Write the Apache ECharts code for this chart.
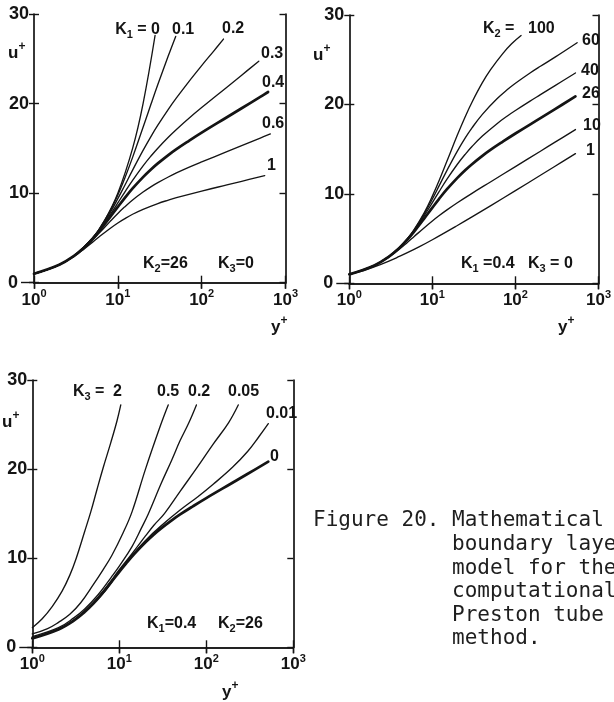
<!DOCTYPE html>
<html>
<head>
<meta charset="utf-8">
<script src="https://cdn.jsdelivr.net/npm/echarts@6/dist/echarts.min.js"></script>
<style>
  html, body { margin: 0; padding: 0; background: #fff; }
  #c { width: 614px; height: 702px; }
</style>
</head>
<body>
<div id="c"></div>
<script>
// Velocity profiles u+ against wall distance y+ (log scale) for three parameter sweeps.

// ---- Sweep of K1 (K2 = 26, K3 = 0) : pairs [y+, u+] ----
const k1_0  = [[1,1.0],[2,2.0],[3,3.0],[5,5.0],[7,7.0],[10,10.0],[15,15.0],[20,20.0],[27.8,27.6]];
const k1_01 = [[1,1.0],[2,2.0],[3,3.0],[5,4.99],[6,5.98],[8,7.93],[10,9.8],[12,11.58],[15,13.99],[20,17.35],[25,20.0],[30,22.12],[40,25.33],[49,27.5]];
const k1_02 = [[1,1.0],[2,2.0],[3,3.0],[4,3.99],[5,4.97],[6,5.93],[8,7.75],[10,9.38],[12,10.8],[15,12.57],[20,14.77],[25,16.37],[30,17.59],[40,19.36],[50,20.63],[70,22.43],[100,24.24],[140,25.89],[182,27.2]];
const k1_03 = [[1,1.0],[2,2.0],[3,2.99],[4,3.97],[5,4.93],[6,5.85],[8,7.51],[10,8.91],[12,10.06],[15,11.42],[20,13.04],[25,14.17],[30,15.02],[40,16.24],[50,17.11],[70,18.33],[100,19.55],[200,21.83],[300,23.17],[480,24.73]];
const k1_04 = [[1,1.0],[2,2.0],[3,2.99],[4,3.96],[5,4.88],[6,5.75],[8,7.26],[10,8.46],[12,9.42],[15,10.52],[20,11.79],[25,12.67],[30,13.32],[40,14.25],[50,14.91],[70,15.82],[100,16.75],[200,18.47],[300,19.48],[500,20.75],[620,21.29]];
const k1_06 = [[1,1.0],[2,2.0],[3,2.98],[4,3.92],[5,4.78],[6,5.55],[8,6.79],[10,7.73],[12,8.44],[15,9.23],[20,10.12],[25,10.73],[30,11.17],[40,11.8],[50,12.25],[70,12.87],[100,13.48],[200,14.63],[300,15.3],[500,16.15],[660,16.61]];
const k1_1  = [[1,1.0],[2,1.99],[3,2.94],[4,3.8],[5,4.53],[6,5.13],[8,6.03],[10,6.67],[12,7.13],[15,7.64],[20,8.19],[30,8.84],[40,9.22],[50,9.49],[100,10.23],[200,10.92],[300,11.32],[565,11.96]];

// ---- Sweep of K2 (K1 = 0.4, K3 = 0) ----
const k2_1   = [[1,0.99],[1.5,1.43],[2,1.83],[3,2.48],[4,3.0],[5,3.42],[7,4.1],[10,4.87],[20,6.46],[30,7.42],[50,8.66],[100,10.36],[200,12.08],[300,13.09],[528,14.5]];
const k2_10  = [[1,1.0],[2,1.99],[3,2.94],[4,3.81],[5,4.57],[6,5.21],[8,6.22],[10,6.97],[12,7.55],[15,8.21],[20,9.01],[30,10.06],[50,11.33],[100,13.05],[200,14.77],[300,15.78],[528,17.19]];
const k2_26  = [[1,1.0],[2,2.0],[3,2.99],[4,3.96],[5,4.88],[6,5.75],[8,7.26],[10,8.46],[12,9.42],[15,10.52],[20,11.79],[25,12.67],[30,13.32],[40,14.25],[50,14.91],[70,15.82],[100,16.75],[200,18.47],[300,19.48],[528,20.89]];
const k2_40  = [[1,1.0],[2,2.0],[3,3.0],[4,3.98],[5,4.94],[6,5.87],[8,7.57],[10,9.02],[12,10.22],[15,11.64],[20,13.31],[25,14.45],[30,15.29],[40,16.46],[60,17.85],[80,18.71],[100,19.32],[150,20.37],[200,21.09],[300,22.11],[528,23.52]];
const k2_60  = [[1,1.0],[2,2.0],[3,3.0],[4,3.99],[5,4.97],[6,5.93],[8,7.77],[10,9.42],[12,10.86],[15,12.63],[20,14.78],[25,16.28],[30,17.38],[40,18.89],[60,20.63],[80,21.66],[100,22.37],[150,23.52],[200,24.27],[300,25.29],[553,26.9]];
const k2_100 = [[1,1.0],[2,2.0],[3,3.0],[4,4.0],[5,5.0],[6,5.98],[8,7.91],[10,9.75],[12,11.44],[15,13.67],[20,16.57],[25,18.68],[30,20.25],[40,22.43],[50,23.86],[70,25.66],[90,26.78],[117,27.7]];

// ---- Sweep of K3 (K1 = 0.4, K2 = 26) ----
const k3_2   = [[1,2.2],[1.3,3.2],[1.7,4.6],[2.2,6.3],[2.7,8.1],[3.2,10.0],[4,13.0],[4.7,15.2],[5.5,17.6],[6.5,20.1],[8,23.0],[9.4,25.4],[10.4,27.2]];
const k3_05  = [[1,1.5],[1.5,2.1],[2,2.8],[2.7,3.7],[3.6,5.0],[5,7.0],[6.5,8.7],[8.2,10.3],[11,12.8],[14,15.2],[20,20.0],[30,25.0],[36.5,27.2]];
const k3_02  = [[1,1.2],[2,2.2],[3,3.3],[4,4.3],[5.7,5.9],[8,7.8],[10,9.1],[14,11.3],[18,13.4],[21.6,15.0],[30,18.3],[40,21.0],[50,23.2],[63,25.2],[77,27.2]];
const k3_005 = [[1,1.05],[2,2.05],[3,3.05],[5,5.0],[7,6.7],[10,8.7],[14,10.5],[20,12.5],[25,13.7],[33,15.0],[50,17.5],[80,20.3],[120,22.8],[180,25.2],[233,27.2]];
const k3_001 = [[1,1.0],[2,2.0],[3,3.0],[5,4.9],[7,6.4],[10,8.55],[15,10.65],[20,12.0],[30,13.6],[50,15.4],[80,16.9],[120,18.3],[200,20.2],[300,22.0],[400,23.6],[516,25.1]];
const k3_0   = [[1,1.0],[2,2.0],[3,2.99],[4,3.96],[5,4.88],[6,5.75],[8,7.26],[10,8.46],[12,9.42],[15,10.52],[20,11.79],[25,12.67],[30,13.32],[40,14.25],[50,14.91],[70,15.82],[100,16.75],[200,18.47],[300,19.48],[516,20.83]];

// axis ranges and tick values
const xRange = [1, 1000];
const yTicks = [0, 10, 20, 30];

const panels = [
  { curves: [k1_0, k1_01, k1_02, k1_03, k1_04, k1_06, k1_1], bold: k1_04 },
  { curves: [k2_1, k2_10, k2_26, k2_40, k2_60, k2_100], bold: k2_26 },
  { curves: [k3_2, k3_05, k3_02, k3_005, k3_001, k3_0], bold: k3_0 }
];

const INK = '#141414';
const FONT = '"Liberation Sans", Arial, Helvetica, sans-serif';
const MONO = '"DejaVu Sans Mono", "Liberation Mono", monospace';

const grids = [
  { left: 34, top: 14, width: 251.5, height: 268.7 },
  { left: 349.3, top: 15, width: 252.4, height: 268.3 },
  { left: 32.3, top: 380, width: 261, height: 267.3 }
];

const powRich = {
  b: { fontSize: 17, fontWeight: 'bold', fontFamily: FONT, color: INK, padding: [3, 0, 0, 0] },
  s: { fontSize: 11, fontWeight: 'bold', fontFamily: FONT, color: INK, verticalAlign: 'top', lineHeight: 12 }
};

const line = { color: INK, width: 1.7 };
const tickLine = { color: INK, width: 1.4 };

const xAxes = [], yAxes = [];
grids.forEach((g, gi) => {
  const xBase = { gridIndex: gi, type: 'log', logBase: 10, min: xRange[0], max: xRange[1],
    splitLine: { show: false }, minorTick: { show: false }, minorSplitLine: { show: false } };
  xAxes.push(Object.assign({}, xBase, {
    position: 'bottom', axisLine: { show: true, lineStyle: line },
    axisTick: { show: true, inside: false, length: 6, lineStyle: tickLine },
    axisLabel: { show: true, margin: 6, rich: powRich,
      formatter: v => '{b|10}{s|' + Math.round(Math.log10(v)) + '}' }
  }));
  xAxes.push(Object.assign({}, xBase, {
    position: 'bottom', axisLine: { show: false },
    axisTick: { show: true, inside: true, length: 7, lineStyle: tickLine }, axisLabel: { show: false }
  }));
  xAxes.push(Object.assign({}, xBase, {
    position: 'top', axisLine: { show: true, lineStyle: line },
    axisTick: { show: true, inside: true, length: 6, lineStyle: tickLine }, axisLabel: { show: false }
  }));

  const yBase = { gridIndex: gi, type: 'value', min: yTicks[0], max: yTicks[yTicks.length - 1], interval: 10,
    splitLine: { show: false } };
  yAxes.push(Object.assign({}, yBase, {
    position: 'left', axisLine: { show: true, lineStyle: line },
    axisTick: { show: true, inside: false, length: 5, lineStyle: tickLine },
    axisLabel: { show: true, margin: 5, fontSize: 18, fontWeight: 'bold', fontFamily: FONT, color: INK,
      formatter: v => (v === 0 ? '' : String(v)) }
  }));
  yAxes.push(Object.assign({}, yBase, {
    position: 'left', axisLine: { show: false },
    axisTick: { show: true, inside: true, length: 5, lineStyle: tickLine }, axisLabel: { show: false }
  }));
  yAxes.push(Object.assign({}, yBase, {
    position: 'right', axisLine: { show: true, lineStyle: line },
    axisTick: { show: true, inside: true, length: 6, lineStyle: tickLine }, axisLabel: { show: false }
  }));
  // longer tick and label at u+ = 0
  yAxes.push(Object.assign({}, yBase, {
    position: 'left', axisLine: { show: false },
    axisTick: { show: true, inside: false, length: 13, lineStyle: tickLine, customValues: [0] },
    axisLabel: { show: true, margin: 16, fontSize: 18, fontWeight: 'bold', fontFamily: FONT, color: INK,
      customValues: [0], formatter: v => (v === 0 ? '0' : '') }
  }));
});

const series = [];
panels.forEach((p, gi) => {
  p.curves.forEach(c => {
    series.push({
      type: 'line', xAxisIndex: gi * 3, yAxisIndex: gi * 4, data: c,
      showSymbol: false, symbol: 'none', smooth: 0.4,
      lineStyle: { color: INK, width: c === p.bold ? 2.7 : 1.35, cap: 'round', join: 'round' },
      silent: true, animation: false, z: 3
    });
  });
});

// text annotations
const tRich = {
  m: { fontSize: 16, fontWeight: 'bold', fontFamily: FONT, fill: INK, padding: [0, 0, 2, 0] },
  i: { fontSize: 11, fontWeight: 'bold', fontFamily: FONT, fill: INK, verticalAlign: 'bottom', lineHeight: 11 },
  n: { fontSize: 17, fontWeight: 'bold', fontFamily: FONT, fill: INK, padding: [4, 0, 0, 0] },
  p: { fontSize: 12, fontWeight: 'bold', fontFamily: FONT, fill: INK, verticalAlign: 'top', lineHeight: 12 }
};
function txt(x, y, text, align) {
  return { type: 'text', x: x, y: y, silent: true, z: 10,
    style: { text: text, rich: tRich, fill: INK, font: 'bold 16px ' + FONT,
      textAlign: align || 'left', textVerticalAlign: 'middle' } };
}
const K = (n, rest) => '{m|K}{i|' + n + '}{m|' + rest + '}';
const plus = s => '{n|' + s + '}{p|+}';

const notes = [
  // first sweep
  txt(160, 31, K(1, ' = 0'), 'right'),
  txt(172, 31, '{m|0.1}'),
  txt(222, 30, '{m|0.2}'),
  txt(261, 55, '{m|0.3}'),
  txt(262, 84, '{m|0.4}'),
  txt(262, 125, '{m|0.6}'),
  txt(267, 167, '{m|1}'),
  txt(143, 265, K(2, '=26')),
  txt(218, 265, K(3, '=0')),
  txt(8, 51, plus('u')),
  txt(271, 325, plus('y')),
  // second sweep
  txt(483, 30, K(2, ' =')),
  txt(528, 30, '{m|100}'),
  txt(582, 42, '{m|60}'),
  txt(581, 72, '{m|40}'),
  txt(582, 95, '{m|26}'),
  txt(583, 127, '{m|10}'),
  txt(586, 152, '{m|1}'),
  txt(461, 265, K(1, ' =0.4')),
  txt(528, 265, K(3, ' = 0')),
  txt(313, 53, plus('u')),
  txt(558, 325, plus('y')),
  // third sweep
  txt(73, 393, K(3, ' =')),
  txt(113, 393, '{m|2}'),
  txt(157, 393, '{m|0.5}'),
  txt(188, 393, '{m|0.2}'),
  txt(228, 393, '{m|0.05}'),
  txt(266, 415, '{m|0.01}'),
  txt(270, 458, '{m|0}'),
  txt(147, 625, K(1, '=0.4')),
  txt(218, 625, K(2, '=26')),
  txt(2, 420, plus('u')),
  txt(222, 690, plus('y'))
];

// figure caption
const captionLines = [
  'Figure 20. Mathematical',
  '           boundary layer',
  '           model for the',
  '           computational',
  '           Preston tube',
  '           method.'
];
captionLines.forEach((s, k) => {
  notes.push({ type: 'text', x: 313, y: 521 + k * 23.6, silent: true, z: 10,
    style: { text: s, fill: '#1e1e1e', font: '21px ' + MONO, textAlign: 'left', textVerticalAlign: 'middle' } });
});

const chart = echarts.init(document.getElementById('c'), null, { renderer: 'canvas' });
chart.setOption({
  animation: false,
  backgroundColor: '#ffffff',
  grid: grids.map(g => Object.assign({ containLabel: false }, g)),
  xAxis: xAxes,
  yAxis: yAxes,
  series: series,
  graphic: notes
});
</script>
</body>
</html>
